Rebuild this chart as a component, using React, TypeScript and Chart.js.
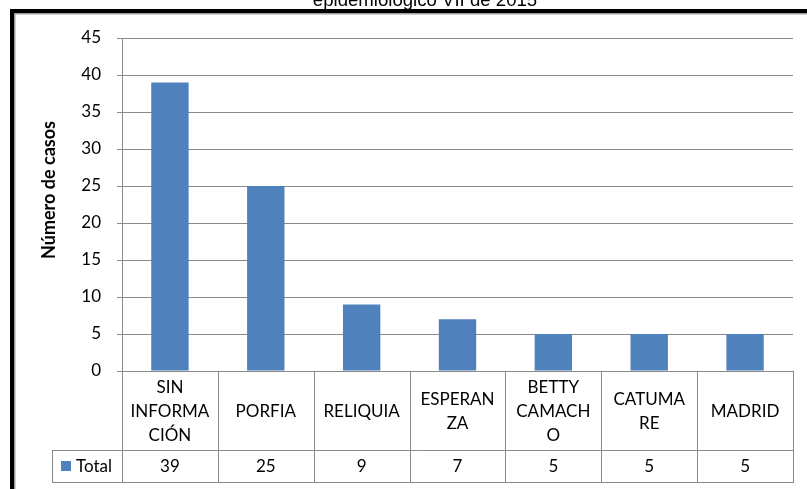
import React, { useEffect, useRef } from "react";
import { Chart, registerables } from "chart.js";

Chart.register(...registerables);

// ---- data ----
const categoryLines: string[][] = [
  ["SIN", "INFORMA", "CIÓN"],
  ["PORFIA"],
  ["RELIQUIA"],
  ["ESPERAN", "ZA"],
  ["BETTY", "CAMACH", "O"],
  ["CATUMA", "RE"],
  ["MADRID"],
];
const categories: string[] = [
  "SIN INFORMACIÓN",
  "PORFIA",
  "RELIQUIA",
  "ESPERANZA",
  "BETTY CAMACHO",
  "CATUMARE",
  "MADRID",
];
const totals: number[] = [39, 25, 9, 7, 5, 5, 5];
const seriesName = "Total";
const yMin = 0;
const yMax = 45;
const yStep = 5;
const titleText = "epidemiológico VII de 2015";
const yAxisTitle = "Número de casos";

// ---- styles ----
const FONT = "Lato, 'Open Sans', sans-serif";
const BAR = "#4F81BD";
const LINE = "#898989";

const tablePlugin = {
  id: "tablePlugin",
  afterDraw(chart: any) {
    const ctx: CanvasRenderingContext2D = chart.ctx;
    const ca = chart.chartArea;
    const xs = chart.scales.x;
    const n = categories.length;
    const colW = (ca.right - ca.left) / n;
    const top = Math.round(ca.bottom);
    const rowY = 450;
    const tBottom = 482;
    const legendLeft = 52;
    const L = Math.round(ca.left);
    const R = Math.round(ca.right);

    ctx.save();
    ctx.strokeStyle = LINE;
    ctx.lineWidth = 1;
    ctx.beginPath();
    ctx.moveTo(L, top + 0.5);
    ctx.lineTo(R, top + 0.5);
    ctx.moveTo(legendLeft, rowY + 0.5);
    ctx.lineTo(R, rowY + 0.5);
    ctx.moveTo(legendLeft, tBottom + 0.5);
    ctx.lineTo(R + 1, tBottom + 0.5);
    ctx.moveTo(legendLeft + 0.5, rowY);
    ctx.lineTo(legendLeft + 0.5, tBottom + 1);
    ctx.moveTo(L + 0.5, Math.round(ca.top));
    ctx.lineTo(L + 0.5, tBottom + 1);
    for (let i = 0; i < n; i++) {
      const c = xs.getPixelForValue(i);
      const x = Math.round(c + colW / 2) + 0.5;
      ctx.moveTo(x, top);
      ctx.lineTo(x, tBottom + 1);
    }
    ctx.stroke();

    ctx.fillStyle = "#000";
    ctx.font = `17px ${FONT}`;
    ctx.textAlign = "center";
    ctx.textBaseline = "alphabetic";
    const headCenter = (top + rowY) / 2;
    const lh = 24;
    for (let i = 0; i < n; i++) {
      const c = xs.getPixelForValue(i);
      const lines = categoryLines[i];
      const y0 = headCenter - ((lines.length - 1) * lh) / 2;
      lines.forEach((t, k) => {
        ctx.fillText(t, c, y0 + k * lh + 6);
      });
      ctx.fillText(String(totals[i]), c, 472);
    }

    ctx.fillStyle = BAR;
    ctx.fillRect(61, 461, 10, 10);
    ctx.fillStyle = "#000";
    ctx.textAlign = "left";
    ctx.fillText(seriesName, 76, 472);

    ctx.save();
    ctx.translate(55, 190);
    ctx.rotate(-Math.PI / 2);
    ctx.font = `bold 18px ${FONT}`;
    ctx.textAlign = "center";
    ctx.fillText(yAxisTitle, 0, 0);
    ctx.restore();

    ctx.font = "18.6px 'Liberation Sans', Arial, sans-serif";
    ctx.textAlign = "center";
    ctx.fillText(titleText, 425, 6);

    ctx.fillStyle = "#000";
    ctx.fillRect(10, 9, 807, 4);
    ctx.fillRect(10, 9, 4, 489);
    ctx.fillStyle = "#a0a0a0";
    ctx.fillRect(14, 13, 807, 1.5);
    ctx.fillRect(14, 13, 1.5, 489);
    ctx.restore();
  },
};

export default function App() {
  const ref = useRef<HTMLCanvasElement | null>(null);

  useEffect(() => {
    if (!ref.current) return;
    const chart = new Chart(ref.current, {
      type: "bar",
      data: {
        labels: categories,
        datasets: [
          {
            label: seriesName,
            data: totals,
            backgroundColor: BAR,
            borderWidth: 0,
            categoryPercentage: 1,
            barPercentage: 0.39,
          },
        ],
      },
      options: {
        responsive: false,
        animation: false,
        devicePixelRatio: 1,
        layout: { padding: { left: 0, top: 38, right: 14, bottom: 118 } },
        plugins: {
          legend: { display: false },
          title: { display: false },
          tooltip: { enabled: false },
        },
        scales: {
          x: {
            display: false,
            offset: true,
            grid: { display: false },
          },
          y: {
            min: yMin,
            max: yMax,
            afterFit: (scale: any) => {
              scale.width = 122;
            },
            ticks: {
              stepSize: yStep,
              color: "#000",
              font: { family: FONT, size: 17 },
              padding: 16,
            },
            grid: {
              color: LINE,
              tickLength: 5,
              drawTicks: true,
            },
            border: { display: true, color: LINE },
          },
        },
      },
      plugins: [tablePlugin],
    });
    return () => chart.destroy();
  }, []);

  return (
    <div style={{ position: "absolute", left: 0, top: 0, width: 807, height: 489, background: "#fff" }}>
      <canvas ref={ref} width={807} height={489} style={{ display: "block" }} />
    </div>
  );
}
